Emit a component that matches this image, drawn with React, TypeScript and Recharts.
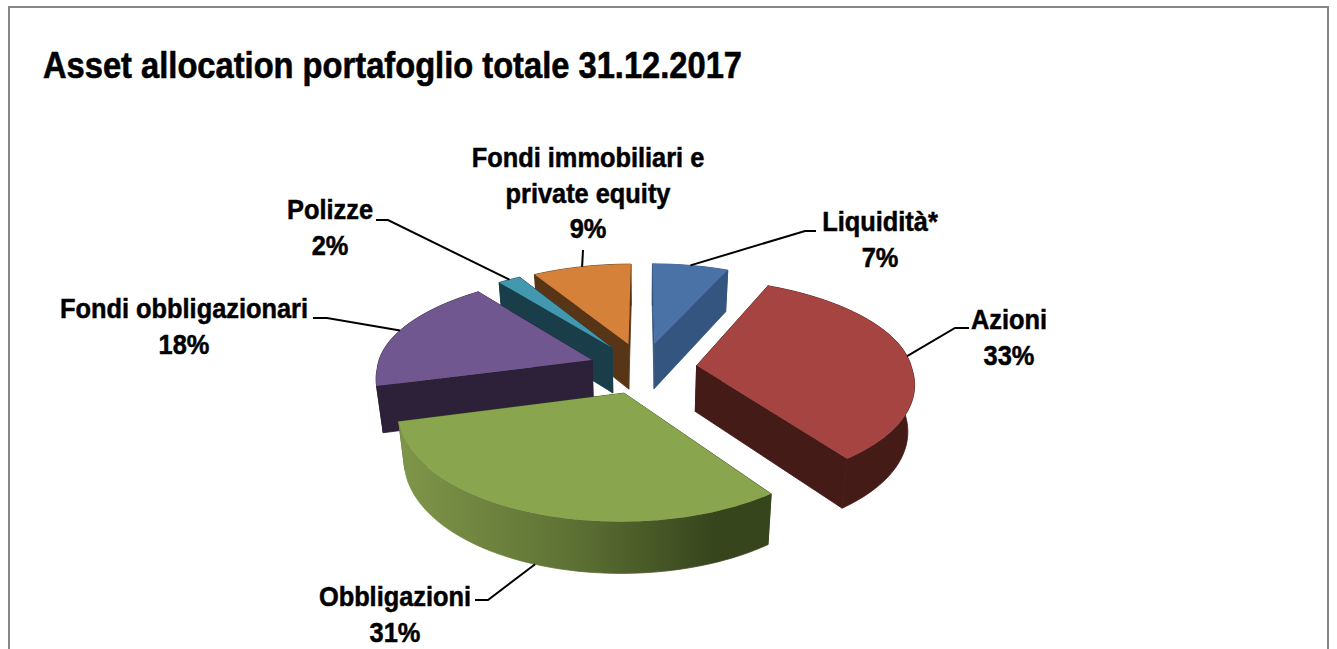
import React from "react";
import { PieChart, Pie, Cell } from "recharts";

const TITLE = "Asset allocation portafoglio totale 31.12.2017";

// Drawn back to front, counter-clockwise from 12 o'clock.
const names = ["Fondi immobiliari e private equity", "Polizze", "Fondi obbligazionari", "Obbligazioni", "Azioni", "Liquidità*"];
const shares = [9, 2, 18, 31, 33, 7];
const data = names.map((name, i) => ({ name, value: shares[i] }));

const topColors = ["#d68139", "#4198af", "#71578f", "#89a54e", "#a64441", "#4a72a6"];
const wallColors = ["#593517", "#193d49", "#2c2138", "url(#greenWall)", "#451b18", "#33557f"];

const labelLines: Record<string, string[]> = {
  "Fondi immobiliari e private equity": ["Fondi immobiliari e", "private equity", "9%"],
  Polizze: ["Polizze", "2%"],
  "Fondi obbligazionari": ["Fondi obbligazionari", "18%"],
  Obbligazioni: ["Obbligazioni", "31%"],
  Azioni: ["Azioni", "33%"],
  "Liquidità*": ["Liquidità*", "7%"],
};
const labelPlace: Record<string, { x: number; y: number; path: number[][]; base?: boolean }> = {
  "Fondi immobiliari e private equity": { x: 588, y: 167, path: [[583, 250]] },
  Polizze: { x: 330, y: 219, path: [[388, 220], [376, 220]] },
  "Fondi obbligazionari": { x: 184, y: 318, path: [[327, 318], [313, 318]] },
  Obbligazioni: { x: 395, y: 606, path: [[488, 600], [475, 600]], base: true },
  Azioni: { x: 1009, y: 329, path: [[955, 328], [969, 328]] },
  "Liquidità*": { x: 880, y: 231, path: [[805, 231], [816, 231]] },
};

const CX = 643;
const CY = 368;
const RADIUS = 215;
const EXPLODE = 54 / 215;
const TILT = 0.478;
const PX_BACK = 0.11;
const PX_FRONT = 0.15;
const PY = 0.14;
const DEPTH = 46;
const DEPTH_P = 0.09;
const SHRINK = 0.975;

const RAD = Math.PI / 180;

function project(cx: number, cy: number, r: number, X: number, Y: number, low: boolean) {
  const back = Y > 0 ? Y * Y : 0;
  const x = (r * X) / (1 + (Y > 0 ? PX_BACK : PX_FRONT) * Y + 0.07 * back);
  const y = (TILT * r * Y) / (1 + PY * Y + 0.035 * back);
  return low
    ? [cx + x * SHRINK, cy - y + DEPTH / (1 + DEPTH_P * Y)]
    : [cx + x, cy - y];
}

function slicePoint(cx: number, cy: number, r: number, mid: number, a: number, rim: number, low: boolean) {
  const X = EXPLODE * Math.cos(mid * RAD) + rim * Math.cos(a * RAD);
  const Y = EXPLODE * Math.sin(mid * RAD) + rim * Math.sin(a * RAD);
  return project(cx, cy, r, X, Y, low);
}

const toPath = (pts: number[][]) => "M" + pts.map((p) => p[0].toFixed(2) + " " + p[1].toFixed(2)).join("L") + "Z";

function SliceShape(props: any) {
  const { cx, cy, outerRadius, startAngle, endAngle, fill, index, stroke } = props;
  const mid = (startAngle + endAngle) / 2;
  const steps = Math.max(4, Math.ceil(Math.abs(endAngle - startAngle) / 2));
  const angles: number[] = [];
  for (let i = 0; i <= steps; i++) angles.push(startAngle + ((endAngle - startAngle) * i) / steps);
  const top = angles.map((a) => slicePoint(cx, cy, outerRadius, mid, a, 1, false));
  const low = angles.map((a) => slicePoint(cx, cy, outerRadius, mid, a, 1, true));
  const apexT = slicePoint(cx, cy, outerRadius, mid, 0, 0, false);
  const apexL = slicePoint(cx, cy, outerRadius, mid, 0, 0, true);
  const wall = wallColors[index] ?? stroke;
  const solid = wall.startsWith("url") ? "#38461c" : wall;
  return (
    <g>
      <path d={toPath([apexT, top[0], low[0], apexL])} fill={solid} stroke={solid} strokeWidth={0.8} strokeLinejoin="round" />
      <path d={toPath([apexT, top[steps], low[steps], apexL])} fill={solid} stroke={solid} strokeWidth={0.8} strokeLinejoin="round" />
      <path d={toPath([...top, ...low.slice().reverse()])} fill={wall} stroke={wall} strokeWidth={0.8} strokeLinejoin="round" />
      <path d={toPath([apexT, ...top])} fill={fill} />
    </g>
  );
}

function SliceLabel(props: any) {
  const { cx, cy, outerRadius, midAngle, name } = props;
  const place = labelPlace[name];
  const lines = labelLines[name];
  if (!place || !lines) return null;
  const anchor = slicePoint(cx, cy, outerRadius, midAngle, midAngle, 1, !!place.base);
  const pts = [anchor, ...place.path];
  const d = "M" + pts.map((p) => p[0].toFixed(1) + " " + p[1].toFixed(1)).join("L");
  return (
    <g>
      <path d={d} fill="none" stroke="#000" strokeWidth={2} />
      {lines.map((t, i) => (
        <text
          key={t}
          transform={`translate(${place.x} ${place.y + i * 35.5}) scale(0.94 1)`}
          textAnchor="middle"
          fontFamily="'Liberation Sans', Arial, sans-serif"
          fontWeight={700}
          fontSize={27}
          fill="#000"
          stroke="#000"
          strokeWidth={0.5}
        >
          {t}
        </text>
      ))}
    </g>
  );
}

export default function App() {
  return (
    <div style={{ position: "absolute", left: 0, top: 0, width: 1337, height: 649, overflow: "hidden", background: "#fff" }}>
      <PieChart width={1337} height={649} margin={{ top: 0, right: 0, bottom: 0, left: 0 }}>
        <defs>
          <linearGradient id="greenWall" gradientUnits="userSpaceOnUse" x1={400} y1={0} x2={770} y2={0}>
            <stop offset="0" stopColor="#7f9649" />
            <stop offset="0.45" stopColor="#5f7335" />
            <stop offset="0.85" stopColor="#37451c" />
            <stop offset="1" stopColor="#37451c" />
          </linearGradient>
        </defs>
        <rect x={9} y={7} width={1319} height={700} fill="none" stroke="#868686" strokeWidth={2} />
        <text x={43} y={78} fontFamily="'Liberation Sans', Arial, sans-serif" fontWeight={700} fontSize={36} textLength={699} lengthAdjust="spacingAndGlyphs" fill="#000" stroke="#000" strokeWidth={0.6}>
          {TITLE}
        </text>
        <Pie
          data={data}
          dataKey="value"
          nameKey="name"
          cx={CX}
          cy={CY}
          outerRadius={RADIUS}
          innerRadius={0}
          startAngle={90}
          endAngle={450}
          paddingAngle={0}
          stroke="none"
          isAnimationActive={false}
          shape={SliceShape}
          label={SliceLabel}
          labelLine={false}
        >
          {names.map((n, i) => (
            <Cell key={n} fill={topColors[i]} />
          ))}
        </Pie>
      </PieChart>
    </div>
  );
}
